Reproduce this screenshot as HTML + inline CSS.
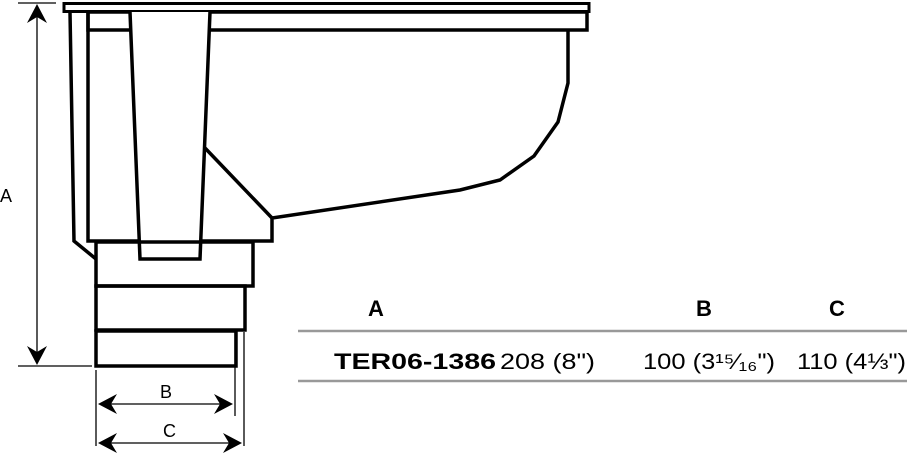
<!DOCTYPE html>
<html><head><style>
body{margin:0;background:#fff;width:907px;height:456px;overflow:hidden}
svg{display:block}
text{font-family:"Liberation Sans",sans-serif}
</style></head><body>
<svg width="907" height="456" viewBox="0 0 907 456">
<g fill="none" stroke="#000" stroke-width="3.5" stroke-linejoin="miter">
<rect x="64" y="3.5" width="525" height="8" stroke-width="3"/>
<rect x="88" y="12" width="499" height="18"/>
<path d="M568 30 L568 83 L558 122 L534 156 L500 180 L460 190 L272 218 L272 241 L88 241 L88 12"/>
<path d="M205 148 L272 218"/>
<path d="M70 12 L74 241 L96 259"/>
<path d="M130 12 L140 259 L200 259 L210 12" fill="#fff"/>
<rect x="96" y="242" width="157" height="44"/>
<rect x="96" y="286" width="149" height="44"/>
<rect x="96" y="331" width="140" height="35"/>
</g>
<g stroke="#000" stroke-width="1.3" fill="none">
<line x1="18" y1="3" x2="56" y2="3"/>
<line x1="18" y1="366" x2="92" y2="366"/>
<line x1="37" y1="10" x2="37" y2="358"/>
<line x1="96" y1="370" x2="96" y2="446"/>
<line x1="235" y1="332" x2="235" y2="416"/>
<line x1="244" y1="332" x2="244" y2="446"/>
<line x1="104" y1="404" x2="228" y2="404"/>
<line x1="104" y1="443" x2="236" y2="443"/>
</g>
<g fill="#000">
<path d="M37 4 L27 23 L37 17 L47 23Z"/>
<path d="M37 365 L27 346 L37 352 L47 346Z"/>
<path d="M98 404 L117 394 L111 404 L117 414Z"/>
<path d="M233 404 L214 394 L220 404 L214 414Z"/>
<path d="M98 443 L117 433 L111 443 L117 453Z"/>
<path d="M242 443 L223 433 L229 443 L223 453Z"/>
</g>
<g font-size="18" fill="#000">
<text x="0" y="202">A</text>
<text x="160" y="398">B</text>
<text x="163" y="437">C</text>
</g>
<g stroke="#999" stroke-width="2.5">
<line x1="298" y1="331" x2="907" y2="331"/>
<line x1="298" y1="381" x2="907" y2="381"/>
</g>
<g font-size="22" fill="#000">
<text x="376" y="316" text-anchor="middle" font-weight="bold">A</text>
<text x="704" y="316" text-anchor="middle" font-weight="bold">B</text>
<text x="837" y="316" text-anchor="middle" font-weight="bold">C</text>
<text x="334" y="369" font-weight="bold" textLength="162" lengthAdjust="spacingAndGlyphs">TER06-1386</text>
<text x="500" y="369" textLength="95" lengthAdjust="spacingAndGlyphs">208 (8")</text>
<text x="643" y="369" textLength="132" lengthAdjust="spacingAndGlyphs">100 (3¹⁵⁄₁₆")</text>
<text x="797" y="369" textLength="109" lengthAdjust="spacingAndGlyphs">110 (4⅓")</text>
</g>
</svg>
</body></html>
